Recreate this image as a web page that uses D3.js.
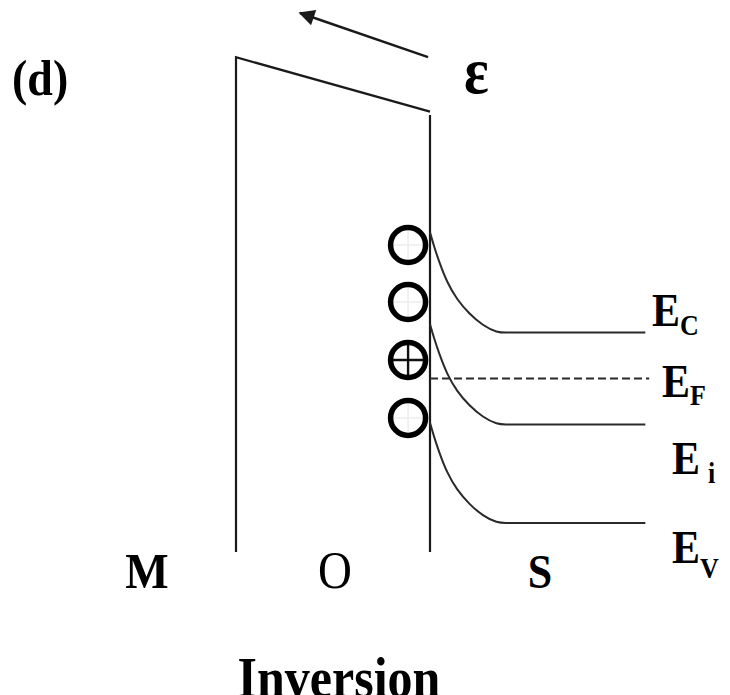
<!DOCTYPE html>
<html>
<head>
<meta charset="utf-8">
<script src="https://cdn.jsdelivr.net/npm/d3@7"></script>
<style>
  html, body { margin: 0; padding: 0; background: #fff; }
  svg { display: block; }
  text { font-family: "Liberation Serif", "Times New Roman", serif; fill: #000; }
</style>
</head>
<body>
<svg id="chart" width="730" height="695"></svg>
<script>
// MOS band diagram in inversion (p-type substrate, positive gate bias)

// Oxide: normalized thickness runs from -1 (metal side) to 0 (semiconductor side)
const oxideEdges = [-1, 0];
const oxideTopEnergy = [2.74, 2.42];   // oxide conduction edge, tilted by the field
const wallTopEnergy = [2.74, 2.40];
const wallBottomEnergy = -0.17;

// Semiconductor bands (eV, measured from bulk valence edge)
const bandNames = ["C", "i", "V"];
const bandBulkEnergy = [1.12, 0.58, 0.0];
const surfaceBending = 0.59;
const fermiEnergy = 0.85;
const bulkEnd = 1.11;
const fermiEnd = 1.13;

// Shape of the bending near the interface (depth into silicon, fraction of surface bending)
const bendDepth = [0, 0.0206, 0.0464, 0.0876, 0.139, 0.201, 0.273, 0.345, 0.40];
const bendFraction = [1, 0.86, 0.71, 0.50, 0.33, 0.19, 0.07, 0, 0];

// Positive charges sitting on the oxide side of the interface
const chargeX = [-0.113, -0.113, -0.113, -0.113];
const chargeEnergy = [1.635, 1.30, 0.959, 0.618];
const chargeCrossed = [false, false, true, false];

// Field arrow (tail, head) in diagram units
const fieldArrowX = [-0.01, -0.67];
const fieldArrowE = [2.741, 3.0];

// Region labels
const regionLabels = ["M", "O", "S"];
const caption = "Inversion";
const panelTag = "(d)";
const fieldSymbol = "ε";

const svg = d3.select("#chart");

const x = d3.scaleLinear().domain([-1, 0]).range([236, 430]);
const y = d3.scaleLinear().domain([0, 1]).range([523, 353]);

const line = d3.line().x(d => x(d[0])).y(d => y(d[1]));
const ink = "#1a1a1a";
const stretch = 1.12;   // text is set slightly tall

// Arrow marker
svg.append("defs").append("marker")
  .attr("id", "head")
  .attr("viewBox", "0 0 10 10")
  .attr("refX", 9).attr("refY", 5)
  .attr("markerWidth", 22).attr("markerHeight", 16)
  .attr("markerUnits", "userSpaceOnUse")
  .attr("orient", "auto")
  .append("path").attr("d", "M0,0 L10,5 L0,10 Z").attr("fill", ink);

// Oxide outline: left wall + tilted top
svg.append("path")
  .attr("d", line([[oxideEdges[0], wallBottomEnergy], [oxideEdges[0], oxideTopEnergy[0]], [oxideEdges[1], oxideTopEnergy[1]]]))
  .attr("fill", "none").attr("stroke", ink).attr("stroke-width", 2.2).attr("stroke-linejoin", "miter");

// Oxide/semiconductor interface
svg.append("path")
  .attr("d", line([[oxideEdges[1], wallTopEnergy[1]], [oxideEdges[1], wallBottomEnergy]]))
  .attr("fill", "none").attr("stroke", ink).attr("stroke-width", 2.2);

// Field arrow
svg.append("line")
  .attr("x1", x(fieldArrowX[0])).attr("y1", y(fieldArrowE[0]))
  .attr("x2", x(fieldArrowX[1])).attr("y2", y(fieldArrowE[1]))
  .attr("stroke", ink).attr("stroke-width", 2.4)
  .attr("marker-end", "url(#head)");

// Bent bands: smooth bending region, then flat bulk level
const bendCurve = d3.line().x(d => x(d[0])).y(d => y(d[1])).curve(d3.curveBasis);
bandBulkEnergy.forEach(eb => {
  const pts = bendDepth.map((d, i) => [d, eb + surfaceBending * bendFraction[i]]);
  svg.append("path")
    .attr("d", bendCurve(pts) + "L" + x(bulkEnd) + "," + y(eb))
    .attr("fill", "none").attr("stroke", "#2a2a2a").attr("stroke-width", 2);
});

// Fermi level
svg.append("path")
  .attr("d", line([[0, fermiEnergy], [fermiEnd, fermiEnergy]]))
  .attr("fill", "none").attr("stroke", "#2a2a2a").attr("stroke-width", 2)
  .attr("stroke-dasharray", "8,4");

// Charges
const r = 17.5;
chargeX.forEach((cx, i) => {
  const px = x(cx), py = y(chargeEnergy[i]);
  const crossColor = chargeCrossed[i] ? "#111" : "#ececec";
  const crossW = chargeCrossed[i] ? 2.4 : 1.5;
  svg.append("line").attr("x1", px - r).attr("x2", px + r).attr("y1", py).attr("y2", py)
    .attr("stroke", crossColor).attr("stroke-width", crossW);
  svg.append("line").attr("x1", px).attr("x2", px).attr("y1", py - r).attr("y2", py + r)
    .attr("stroke", crossColor).attr("stroke-width", crossW);
  svg.append("circle").attr("cx", px).attr("cy", py).attr("r", r)
    .attr("fill", "none").attr("stroke", "#000").attr("stroke-width", 5.5);
});

// Text helper: anchored at (tx, ty) baseline, stretched vertically
function label(tx, ty) {
  return svg.append("text")
    .attr("transform", `translate(${tx},${ty}) scale(1,${stretch})`)
    .attr("x", 0).attr("y", 0);
}

// Band labels
function bandLabel(xPos, base, sub, subGap, subDrop) {
  const t = label(xPos, base).attr("font-size", 42).attr("font-weight", "bold");
  t.append("tspan").text("E");
  t.append("tspan").attr("dx", subGap).attr("dy", subDrop).attr("font-size", 26).text(sub);
}
bandLabel(652, y(bandBulkEnergy[0]) - 7, bandNames[0], 0, 8);
bandLabel(662, y(fermiEnergy) + 18, "F", 0, 8);
bandLabel(672, y(bandBulkEnergy[1]) + 50, bandNames[1], 8, 8);
bandLabel(672, y(bandBulkEnergy[2]) + 40, bandNames[2], 0, 13);

// Region letters
const regionX = [147, 335, 540];
const regionWeight = ["bold", "normal", "bold"];
const regionSize = [46, 47, 44];
regionLabels.forEach((s, i) => {
  label(regionX[i], 588)
    .attr("text-anchor", "middle")
    .attr("font-size", regionSize[i]).attr("font-weight", regionWeight[i]).text(s);
});

label(339, 697).attr("text-anchor", "middle")
  .attr("font-size", 50).attr("font-weight", "bold").text(caption);

label(12, 95).attr("font-size", 46).attr("font-weight", "bold").text(panelTag);

label(464, 93).attr("font-size", 58).attr("font-weight", "bold").text(fieldSymbol);
</script>
</body>
</html>
